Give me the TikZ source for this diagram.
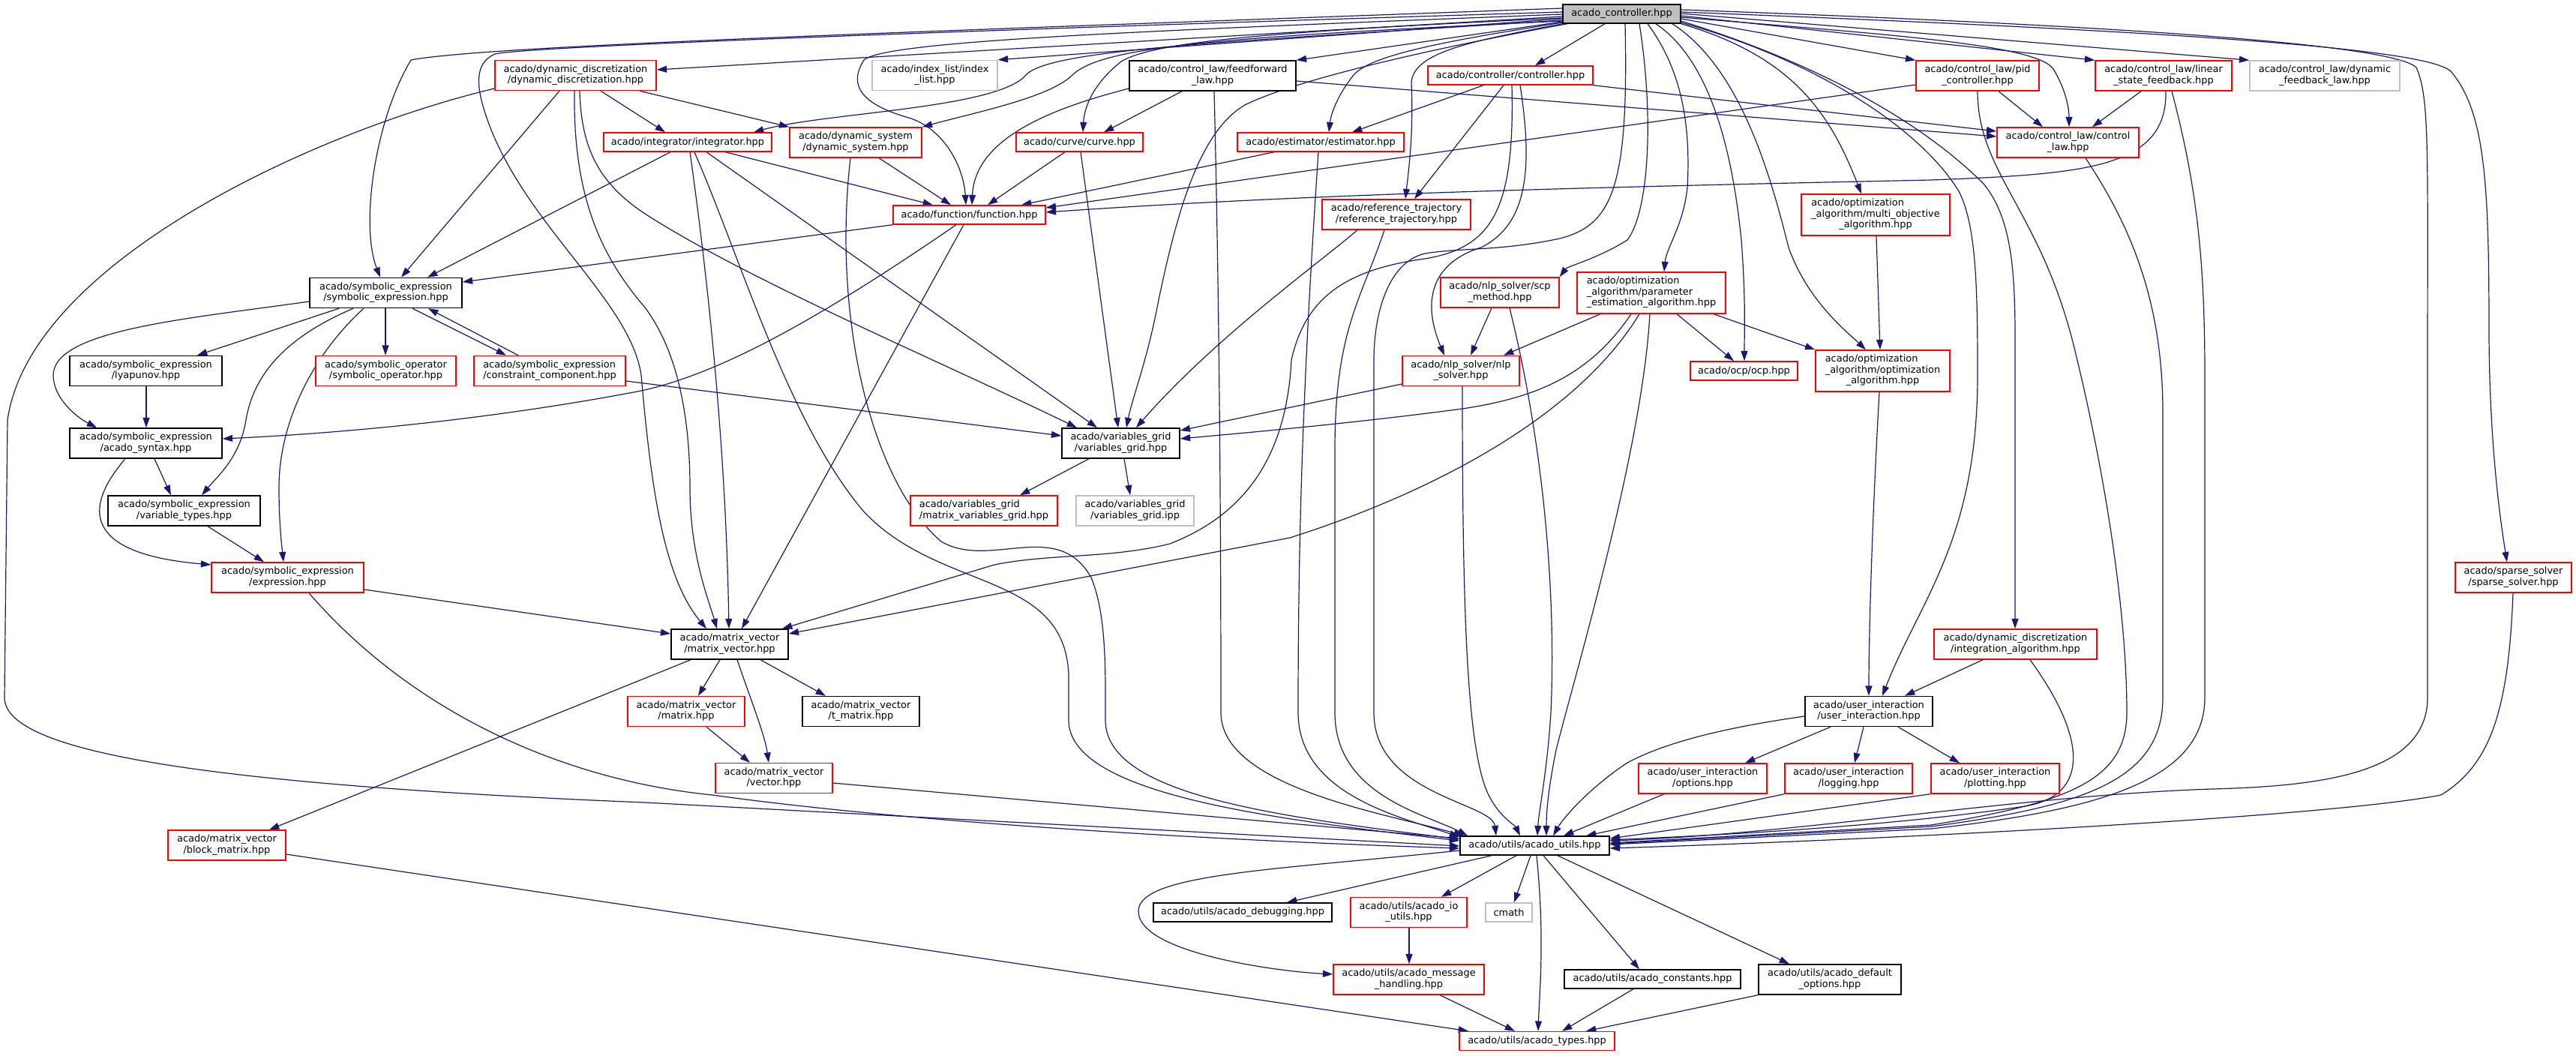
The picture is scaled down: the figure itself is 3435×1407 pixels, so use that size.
\documentclass[tikz,border=0pt]{standalone}
\usepackage{fontspec}
\setmainfont{DejaVu Sans}
\usetikzlibrary{arrows.meta,calc}
\pgfdeclarelayer{edges}
\pgfsetlayers{edges,main}
\definecolor{dred}{RGB}{255,0,0}
\definecolor{lgray}{RGB}{191,191,191}
\definecolor{rootgray}{RGB}{191,191,191}
\definecolor{edgeblue}{RGB}{25,25,112}
\newcommand{\lblfont}{\fontsize{9.68}{10.9}\selectfont}
\newcommand{\two}[2]{\begin{tabular}{@{}l@{}}#1\\\multicolumn{1}{@{}c@{}}{#2}\end{tabular}}
\newcommand{\three}[3]{\begin{tabular}{@{}l@{}}#1\\#2\\\multicolumn{1}{@{}c@{}}{#3}\end{tabular}}
\tikzset{
  box/.style={draw, line width=1.1pt, inner sep=0pt, fill=white, font=\lblfont, text=black},
  rb/.style={box, draw=dred},
  kb/.style={box, draw=black},
  gb/.style={box, draw=lgray},
  wd/.style={minimum width={#1*0.75pt}},
  hone/.style={minimum height=18.75pt},
  htwo/.style={minimum height=30pt},
  hthree/.style={minimum height=41.25pt},
  e/.style={draw=edgeblue, line width=0.9pt, -{Triangle[length=10pt,width=6.7pt]}},
}
\begin{document}
\begin{tikzpicture}[x=0.75pt,y=-0.75pt]
\useasboundingbox (0,0) rectangle (3435,1407);
% ---------------- nodes
\node[kb, fill=rootgray, wd=157, hone] (root) at (2162.5,18.5) {acado\_controller.hpp};
\node[rb, wd=215, htwo] (dd) at (767.5,100.5) {\two{acado/dynamic\_discretization}{/dynamic\_discretization.hpp}};
\node[gb, wd=167, htwo] (il) at (1246.5,100.5) {\two{acado/index\_list/index}{\_list.hpp}};
\node[kb, wd=222, htwo] (ff) at (1617,101) {\two{acado/control\_law/feedforward}{\_law.hpp}};
\node[rb, wd=220, hone] (controller) at (2014,100.5) {acado/controller/controller.hpp};
\node[rb, wd=164, htwo] (pid) at (2637,101) {\two{acado/control\_law/pid}{\_controller.hpp}};
\node[rb, wd=182, htwo] (lsf) at (2885,101) {\two{acado/control\_law/linear}{\_state\_feedback.hpp}};
\node[gb, wd=200, htwo] (dfl) at (3100,101) {\two{acado/control\_law/dynamic}{\_feedback\_law.hpp}};
\node[rb, wd=224, hone] (integrator) at (917,189.5) {acado/integrator/integrator.hpp};
\node[rb, wd=176, htwo] (dynsys) at (1141,190) {\two{acado/dynamic\_system}{/dynamic\_system.hpp}};
\node[rb, wd=169, hone] (curve) at (1439.5,189.5) {acado/curve/curve.hpp};
\node[rb, wd=222, hone] (estimator) at (1761,189.5) {acado/estimator/estimator.hpp};
\node[rb, wd=189, htwo] (controllaw) at (2757.5,190) {\two{acado/control\_law/control}{\_law.hpp}};
\node[rb, wd=203, hone] (function) at (1292.5,286.5) {acado/function/function.hpp};
\node[rb, wd=198, htwo] (reftraj) at (1862,286) {\two{acado/reference\_trajectory}{/reference\_trajectory.hpp}};
\node[rb, wd=198, hthree] (multiobj) at (2501,286.5) {\three{acado/optimization}{\_algorithm/multi\_objective}{\_algorithm.hpp}};
\node[kb, wd=203, htwo] (sym) at (514.5,390.5) {\two{acado/symbolic\_expression}{/symbolic\_expression.hpp}};
\node[rb, wd=158, htwo] (scp) at (2000,390) {\two{acado/nlp\_solver/scp}{\_method.hpp}};
\node[rb, wd=198, hthree] (paramest) at (2202,390.5) {\three{acado/optimization}{\_algorithm/parameter}{\_estimation\_algorithm.hpp}};
\node[kb, wd=203, htwo] (lyapunov) at (194.5,494.5) {\two{acado/symbolic\_expression}{/lyapunov.hpp}};
\node[rb, wd=187, htwo] (symop) at (514.5,494.5) {\two{acado/symbolic\_operator}{/symbolic\_operator.hpp}};
\node[rb, wd=202, htwo] (constr) at (733,494.5) {\two{acado/symbolic\_expression}{/constraint\_component.hpp}};
\node[rb, wd=156, htwo] (nlp) at (1948,494.5) {\two{acado/nlp\_solver/nlp}{\_solver.hpp}};
\node[rb, wd=143, hone] (ocp) at (2325.5,494.5) {acado/ocp/ocp.hpp};
\node[rb, wd=179, hthree] (optalg) at (2510.5,494.5) {\three{acado/optimization}{\_algorithm/optimization}{\_algorithm.hpp}};
\node[kb, wd=203, htwo] (syntax) at (194.5,591) {\two{acado/symbolic\_expression}{/acado\_syntax.hpp}};
\node[kb, wd=157, htwo] (vargrid) at (1494.5,591) {\two{acado/variables\_grid}{/variables\_grid.hpp}};
\node[kb, wd=203, htwo] (vartypes) at (245.5,681) {\two{acado/symbolic\_expression}{/variable\_types.hpp}};
\node[rb, wd=196, htwo] (mvg) at (1312,681) {\two{acado/variables\_grid}{/matrix\_variables\_grid.hpp}};
\node[gb, wd=157, htwo] (vgipp) at (1513.5,681) {\two{acado/variables\_grid}{/variables\_grid.ipp}};
\node[rb, wd=203, htwo] (expr) at (383.5,770) {\two{acado/symbolic\_expression}{/expression.hpp}};
\node[rb, wd=155, htwo] (sparse) at (3351.5,770) {\two{acado/sparse\_solver}{/sparse\_solver.hpp}};
\node[kb, wd=156, htwo] (mv) at (973,859) {\two{acado/matrix\_vector}{/matrix\_vector.hpp}};
\node[rb, wd=217, htwo] (intalg) at (2687.5,859) {\two{acado/dynamic\_discretization}{/integration\_algorithm.hpp}};
\node[rb, wd=156, htwo] (matrix) at (915,948.5) {\two{acado/matrix\_vector}{/matrix.hpp}};
\node[kb, wd=156, htwo] (tmatrix) at (1148,948.5) {\two{acado/matrix\_vector}{/t\_matrix.hpp}};
\node[kb, wd=170, htwo] (userint) at (2492,948.5) {\two{acado/user\_interaction}{/user\_interaction.hpp}};
\node[rb, wd=156, htwo] (vector) at (1032,1037.5) {\two{acado/matrix\_vector}{/vector.hpp}};
\node[rb, wd=171, htwo] (options) at (2270.5,1038) {\two{acado/user\_interaction}{/options.hpp}};
\node[rb, wd=170, htwo] (logging) at (2465,1038) {\two{acado/user\_interaction}{/logging.hpp}};
\node[rb, wd=171, htwo] (plotting) at (2660.5,1038) {\two{acado/user\_interaction}{/plotting.hpp}};
\node[rb, wd=157, htwo] (block) at (302.5,1127) {\two{acado/matrix\_vector}{/block\_matrix.hpp}};
\node[kb, wd=199, hone] (utils) at (2046.5,1127.5) {acado/utils/acado\_utils.hpp};
\node[kb, wd=238, hone] (debugging) at (1657,1216.5) {acado/utils/acado\_debugging.hpp};
\node[rb, wd=155, htwo] (ioutils) at (1878.5,1216.5) {\two{acado/utils/acado\_io}{\_utils.hpp}};
\node[gb, wd=62, hone] (cmath) at (2012,1216.5) {cmath};
\node[rb, wd=201, htwo] (msg) at (1878.5,1306) {\two{acado/utils/acado\_message}{\_handling.hpp}};
\node[kb, wd=235, hone] (constants) at (2203.5,1305.5) {acado/utils/acado\_constants.hpp};
\node[kb, wd=190, htwo] (defopt) at (2440,1306) {\two{acado/utils/acado\_default}{\_options.hpp}};
\node[rb, wd=207, hone] (types) at (2049.5,1388) {acado/utils/acado\_types.hpp};
% ---------------- edges
\begin{pgfonlayer}{edges}
\fill[white] (0,0) rectangle (3435,1407);
% root
\draw[e] (root.west |- 0,22) -- (dd.east |- 0,93);
\draw[e] (root.west |- 0,25) -- (il.north east);
\draw[e] (root.west |- 0,11) .. controls (1300,40) and (650,60) .. (548,80) .. controls (500,160) and (480,300) .. (sym.north -| 507,0);
\draw[e] (root.west |- 0,16) .. controls (1300,40) and (700,62) .. (660,72) .. controls (630,85) and (636,120) .. (650,160) .. controls (700,300) and (840,400) .. (855,500) .. controls (868,650) and (885,770) .. (mv.north -| 942,0);
\draw[e] (root.west |- 0,27) .. controls (1650,55) and (1400,65) .. (1368,100) .. controls (1330,145) and (1100,150) .. (integrator.north -| 1005,0);
\draw[e] (root.west |- 0,28) .. controls (1620,50) and (1470,62) .. (1430,100) .. controls (1400,130) and (1300,150) .. (dynsys.north east);
\draw[e] (root.west |- 0,19) .. controls (1500,42) and (1180,55) .. (1152,80) .. controls (1130,115) and (1150,140) .. (1215,158) .. controls (1262,175) and (1285,225) .. (function.north -| 1288,0);
\draw[e] (root.west |- 0,24) .. controls (1700,42) and (1540,55) .. (1495,82) .. controls (1460,110) and (1446,140) .. (curve.north -| 1444,0);
\draw[e] (root.west |- 0,29) -- (ff.north east);
\draw[e] (root.west |- 0,30) .. controls (1960,50) and (1830,70) .. (1805,100) .. controls (1785,125) and (1775,150) .. (estimator.north -| 1772,0);
\draw[e] (root.south west) .. controls (1960,55) and (1885,70) .. (1882,110) .. controls (1885,180) and (1878,230) .. (reftraj.north -| 1874,0);
\draw[e] (root.south -| 2140,0) -- (controller.north -| 2047,0);
\draw[e] (root.south -| 2090,0) .. controls (1880,70) and (1720,110) .. (1660,140) .. controls (1600,175) and (1570,280) .. (1545,400) .. controls (1530,480) and (1510,530) .. (vargrid.north -| 1502,0);
\draw[e] (root.south -| 2186,0) .. controls (2205,150) and (2200,280) .. (2170,320) .. controls (2130,345) and (2090,355) .. (scp.north east);
\draw[e] (root.south -| 2167,0) .. controls (2172,250) and (2150,300) .. (2080,318) .. controls (2000,335) and (1950,330) .. (1900,338) .. controls (1850,350) and (1832,420) .. (1832,480) -- (1832,950) .. controls (1832,1060) and (1990,1070) .. (utils.north -| 1995,0);
\draw[e] (root.south -| 2197,0) .. controls (2240,90) and (2255,160) .. (2250,250) .. controls (2245,300) and (2222,330) .. (paramest.north -| 2219,0);
\draw[e] (root.south -| 2208,0) .. controls (2280,80) and (2310,200) .. (2322,320) .. controls (2328,400) and (2326,440) .. (ocp.north -| 2326,0);
\draw[e] (root.south -| 2230,0) .. controls (2320,90) and (2360,230) .. (2385,330) .. controls (2410,400) and (2460,440) .. (optalg.north -| 2488,0);
\draw[e] (root.south east) .. controls (2390,75) and (2440,150) .. (multiobj.north -| 2482,0);
\draw[e] (root.east |- 0,25) -- (pid.north west);
\draw[e] (root.east |- 0,21) -- (lsf.north west);
\draw[e] (root.east |- 0,18) -- (dfl.north west);
\draw[e] (root.east |- 0,23) .. controls (2500,45) and (2715,58) .. (2738,92) .. controls (2755,120) and (2759,145) .. (controllaw.north -| 2759,0);
\draw[e] (root.east |- 0,30) .. controls (2420,80) and (2560,170) .. (2612,255) .. controls (2635,300) and (2637,380) .. (2637,500) .. controls (2637,720) and (2560,800) .. (userint.north -| 2510,0);
\draw[e] (root.east |- 0,28) .. controls (2440,90) and (2570,170) .. (2645,245) .. controls (2682,290) and (2687,360) .. (2687,450) -- (intalg.north -| 2687,0);
\draw[e] (root.east |- 0,16) .. controls (2800,38) and (3230,60) .. (3268,95) .. controls (3315,150) and (3319,250) .. (3319,450) .. controls (3320,600) and (3335,700) .. (sparse.north -| 3343,0);
\draw[e] (root.east |- 0,13) .. controls (2800,33) and (3190,58) .. (3222,90) .. controls (3240,130) and (3237,200) .. (3237,500) -- (3237,930) .. controls (3237,1030) and (3100,1048) .. (2950,1052) .. controls (2700,1060) and (2400,1112) .. (utils.east |- 0,1121);
% dynamic discretization
\draw[e] (dd.south -| 746,0) -- (sym.north -| 535,0);
\draw[e] (dd.south -| 766,0) .. controls (764,260) and (800,340) .. (860,410) .. controls (905,470) and (920,560) .. (920,650) .. controls (920,740) and (945,800) .. (mv.north -| 956,0);
\draw[e] (dd.south -| 773,0) .. controls (775,200) and (800,245) .. (860,285) .. controls (1000,375) and (1250,480) .. (vargrid.north -| 1436,0);
\draw[e] (dd.south -| 801,0) -- (integrator.north -| 887,0);
\draw[e] (dd.south -| 853,0) -- (dynsys.north west);
\draw[e] (dd.west |- 0,118) .. controls (420,175) and (40,350) .. (10,560) -- (6,930) .. controls (6,1000) and (250,1045) .. (860,1070) -- (utils.west |- 0,1128);
% integrator
\draw[e] (integrator.south -| 894,0) -- (sym.north -| 570,0);
\draw[e] (integrator.south -| 920,0) .. controls (945,380) and (968,600) .. (mv.north -| 972,0);
\draw[e] (integrator.south -| 926,0) .. controls (990,350) and (1050,560) .. (1150,680) .. controls (1250,790) and (1420,760) .. (1425,900) -- (1425,960) .. controls (1425,1060) and (1700,1092) .. (utils.west |- 0,1121);
\draw[e] (integrator.south -| 942,0) -- (vargrid.north -| 1463,0);
\draw[e] (integrator.south -| 967,0) -- (function.north -| 1244,0);
% dynamic system
\draw[e] (dynsys.south -| 1134,0) .. controls (1110,420) and (1160,640) .. (1255,722) .. controls (1320,760) and (1410,690) .. (1455,770) .. controls (1476,820) and (1474,900) .. (1474,960) .. controls (1474,1060) and (1700,1088) .. (utils.west |- 0,1119);
\draw[e] (dynsys.south -| 1172,0) -- (function.north -| 1268,0);
% curve
\draw[e] (curve.south -| 1420,0) -- (function.north -| 1317,0);
\draw[e] (curve.south -| 1441,0) -- (vargrid.north -| 1491,0);
% feedforward
\draw[e] (ff.west |- 0,118) .. controls (1400,145) and (1300,185) .. (function.north -| 1296,0);
\draw[e] (ff.south -| 1576,0) -- (curve.north -| 1472,0);
\draw[e] (ff.south -| 1619,0) .. controls (1626,400) and (1628,700) .. (1628,950) .. controls (1628,1050) and (1850,1085) .. (utils.north -| 1952,0);
\draw[e] (ff.east |- 0,108) -- (controllaw.west |- 0,182);
% estimator
\draw[e] (estimator.south -| 1699,0) -- (function.north -| 1362,0);
\draw[e] (estimator.south -| 1758,0) .. controls (1738,500) and (1731,700) .. (1731,950) .. controls (1731,1060) and (1870,1090) .. (utils.west |- 0,1116);
% controller
\draw[e] (controller.south -| 1978,0) -- (estimator.north -| 1803,0);
\draw[e] (controller.south -| 2005,0) -- (reftraj.north -| 1886,0);
\draw[e] (controller.south east) -- (controllaw.west |- 0,175);
\draw[e] (controller.south -| 2027,0) .. controls (2045,230) and (2035,300) .. (1975,330) .. controls (1910,350) and (1895,400) .. (nlp.north -| 1926,0);
\draw[e] (controller.south -| 2016,0) .. controls (2020,280) and (1990,330) .. (1900,345) .. controls (1790,360) and (1740,400) .. (1722,480) .. controls (1715,620) and (1650,690) .. (1560,725) .. controls (1480,745) and (1400,738) .. (1326,753) -- (mv.north -| 1043,0);
% reference trajectory
\draw[e] (reftraj.south -| 1810,0) .. controls (1760,350) and (1620,450) .. (vargrid.north -| 1515,0);
\draw[e] (reftraj.south -| 1846,0) .. controls (1815,400) and (1780,440) .. (1780,600) -- (1780,950) .. controls (1780,1060) and (1900,1085) .. (utils.north -| 1957,0);
% pid
\draw[e] (pid.west |- 0,113) -- (function.east |- 0,277);
\draw[e] (pid.south -| 2665,0) -- (controllaw.north -| 2724,0);
\draw[e] (pid.south -| 2637,0) .. controls (2637,230) and (2720,280) .. (2765,460) .. controls (2800,600) and (2836,800) .. (2836,950) .. controls (2836,1040) and (2760,1070) .. (2575,1100) -- (utils.east |- 0,1124);
% linear state feedback
\draw[e] (lsf.south -| 2888,0) .. controls (2890,225) and (2780,232) .. (2575,240) .. controls (2000,252) and (1700,262) .. (function.east |- 0,283);
\draw[e] (lsf.south -| 2855,0) -- (controllaw.north -| 2790,0);
\draw[e] (lsf.south -| 2896,0) .. controls (2930,250) and (2940,350) .. (2940,500) -- (2940,930) .. controls (2940,1040) and (2800,1080) .. (2575,1105) -- (utils.east |- 0,1126);
% control law
\draw[e] (controllaw.south -| 2781,0) .. controls (2840,300) and (2884,400) .. (2884,550) -- (2884,930) .. controls (2884,1040) and (2780,1075) .. (2575,1102) -- (utils.east |- 0,1125);
% function
\draw[e] (function.south west) -- (sym.east |- 0,376);
\draw[e] (function.south -| 1275,0) .. controls (1100,420) and (960,500) .. (850,522) .. controls (650,560) and (450,578) .. (syntax.east |- 0,585);
\draw[e] (function.south -| 1285,0) -- (mv.north -| 989,0);
% multi objective
\draw[e] (multiobj.south -| 2502,0) -- (optalg.north -| 2507,0);
% symbolic expression
\draw[e] (sym.west |- 0,402) .. controls (250,425) and (72,440) .. (71,500) .. controls (71,530) and (100,555) .. (syntax.north -| 129,0);
\draw[e] (sym.south -| 452,0) -- (lyapunov.north -| 263,0);
\draw[e] (sym.south -| 471,0) .. controls (380,450) and (338,500) .. (328,560) .. controls (320,610) and (290,635) .. (vartypes.north -| 269,0);
\draw[e] (sym.south -| 485,0) .. controls (420,470) and (372,560) .. (372,650) .. controls (372,700) and (376,730) .. (expr.north -| 378,0);
\draw[e] (sym.south -| 514,0) -- (symop.north -| 514,0);
\draw[e] (sym.south -| 550,0) -- (constr.north -| 675,0);
\draw[e] (constr.north -| 691,0) -- (sym.south -| 571,0);
\draw[e] (constr.east |- 0,508) -- (vargrid.west |- 0,581);
\draw[e] (lyapunov.south -| 195,0) -- (syntax.north -| 195,0);
\draw[e] (syntax.south -| 206,0) -- (vartypes.north -| 228,0);
\draw[e] (syntax.south -| 167,0) .. controls (100,690) and (130,740) .. (expr.west |- 0,753);
\draw[e] (vartypes.south -| 277,0) -- (expr.north -| 352,0);
\draw[e] (expr.east |- 0,786) -- (mv.west |- 0,845);
\draw[e] (expr.south -| 412,0) .. controls (550,950) and (750,1040) .. (950,1060) .. controls (1200,1095) and (1600,1120) .. (utils.west |- 0,1131);
% scp
\draw[e] (scp.south -| 1989,0) -- (nlp.north -| 1961,0);
\draw[e] (scp.south -| 2013,0) .. controls (2060,600) and (2075,800) .. (2068,950) .. controls (2063,1030) and (2052,1080) .. (utils.north -| 2050,0);
% parameter estimation
\draw[e] (paramest.south -| 2134,0) -- (nlp.north -| 2005,0);
\draw[e] (paramest.south -| 2175,0) .. controls (2120,500) and (2050,530) .. (1950,545) .. controls (1800,565) and (1650,578) .. (vargrid.east |- 0,585);
\draw[e] (paramest.south -| 2186,0) .. controls (2100,560) and (1900,660) .. (1720,717) -- (mv.east |- 0,845);
\draw[e] (paramest.south -| 2200,0) .. controls (2190,600) and (2100,900) .. (2075,1000) .. controls (2065,1050) and (2062,1080) .. (utils.north -| 2062,0);
\draw[e] (paramest.south -| 2236,0) -- (ocp.north -| 2312,0);
\draw[e] (paramest.south -| 2285,0) -- (optalg.north west);
% nlp
\draw[e] (nlp.west |- 0,512) -- (vargrid.east |- 0,574);
\draw[e] (nlp.south -| 1950,0) .. controls (1950,800) and (1955,1000) .. (1985,1060) .. controls (2000,1090) and (2020,1100) .. (utils.north -| 2027,0);
% optimization algorithm
\draw[e] (optalg.south -| 2506,0) .. controls (2496,700) and (2492,850) .. (userint.north -| 2492,0);
% variables grid
\draw[e] (vargrid.south -| 1452,0) -- (mvg.north -| 1360,0);
\draw[e] (vargrid.south -| 1499,0) -- (vgipp.north -| 1507,0);
% matrix vector
\draw[e] (mv.south -| 921,0) -- (block.north -| 359,0);
\draw[e] (mv.south -| 960,0) -- (matrix.north -| 931,0);
\draw[e] (mv.south -| 983,0) .. controls (1000,930) and (1020,980) .. (vector.north -| 1025,0);
\draw[e] (mv.south -| 1014,0) -- (tmatrix.north -| 1101,0);
\draw[e] (matrix.south -| 942,0) -- (vector.north -| 1000,0);
\draw[e] (vector.east |- 0,1044) -- (utils.west |- 0,1118);
\draw[e] (block.east |- 0,1139) -- (types.north -| 1958,0);
% integration algorithm
\draw[e] (intalg.south -| 2644,0) -- (userint.north -| 2540,0);
\draw[e] (intalg.south -| 2707,0) .. controls (2780,980) and (2790,1060) .. (2700,1075) .. controls (2500,1105) and (2250,1115) .. (utils.east |- 0,1120);
% sparse solver
\draw[e] (sparse.south -| 3351,0) .. controls (3345,950) and (3320,1020) .. (3255,1060) .. controls (3100,1090) and (2500,1120) .. (utils.east |- 0,1131);
% user interaction
\draw[e] (userint.west |- 0,955) .. controls (2300,970) and (2220,990) .. (2170,1017) .. controls (2120,1050) and (2085,1090) .. (utils.north -| 2071,0);
\draw[e] (userint.south -| 2441,0) -- (options.north -| 2327,0);
\draw[e] (userint.south -| 2485,0) -- (logging.north -| 2473,0);
\draw[e] (userint.south -| 2531,0) -- (plotting.north -| 2613,0);
\draw[e] (options.south -| 2219,0) -- (utils.north -| 2085,0);
\draw[e] (logging.south west) -- (utils.north -| 2115,0);
\draw[e] (plotting.south west) -- (utils.east |- 0,1118);
% utils
\draw[e] (utils.south -| 1989,0) -- (debugging.north -| 1716,0);
\draw[e] (utils.south -| 2022,0) -- (ioutils.north -| 1922,0);
\draw[e] (utils.south -| 2041,0) -- (cmath.north -| 2019,0);
\draw[e] (utils.south -| 2049,0) .. controls (2060,1250) and (2053,1320) .. (types.north -| 2051,0);
\draw[e] (utils.south -| 2058,0) -- (constants.north -| 2186,0);
\draw[e] (utils.south -| 2077,0) -- (defopt.north -| 2386,0);
\draw[e] (utils.west |- 0,1134) .. controls (1700,1160) and (1518,1165) .. (1518,1215) .. controls (1518,1270) and (1700,1295) .. (msg.west |- 0,1299);
\draw[e] (ioutils.south -| 1879,0) -- (msg.north -| 1879,0);
\draw[e] (msg.south -| 1920,0) -- (types.north -| 2020,0);
\draw[e] (constants.south -| 2178,0) -- (types.north -| 2083,0);
\draw[e] (defopt.south west) -- (types.north -| 2115,0);
\end{pgfonlayer}
\end{tikzpicture}
\end{document}
